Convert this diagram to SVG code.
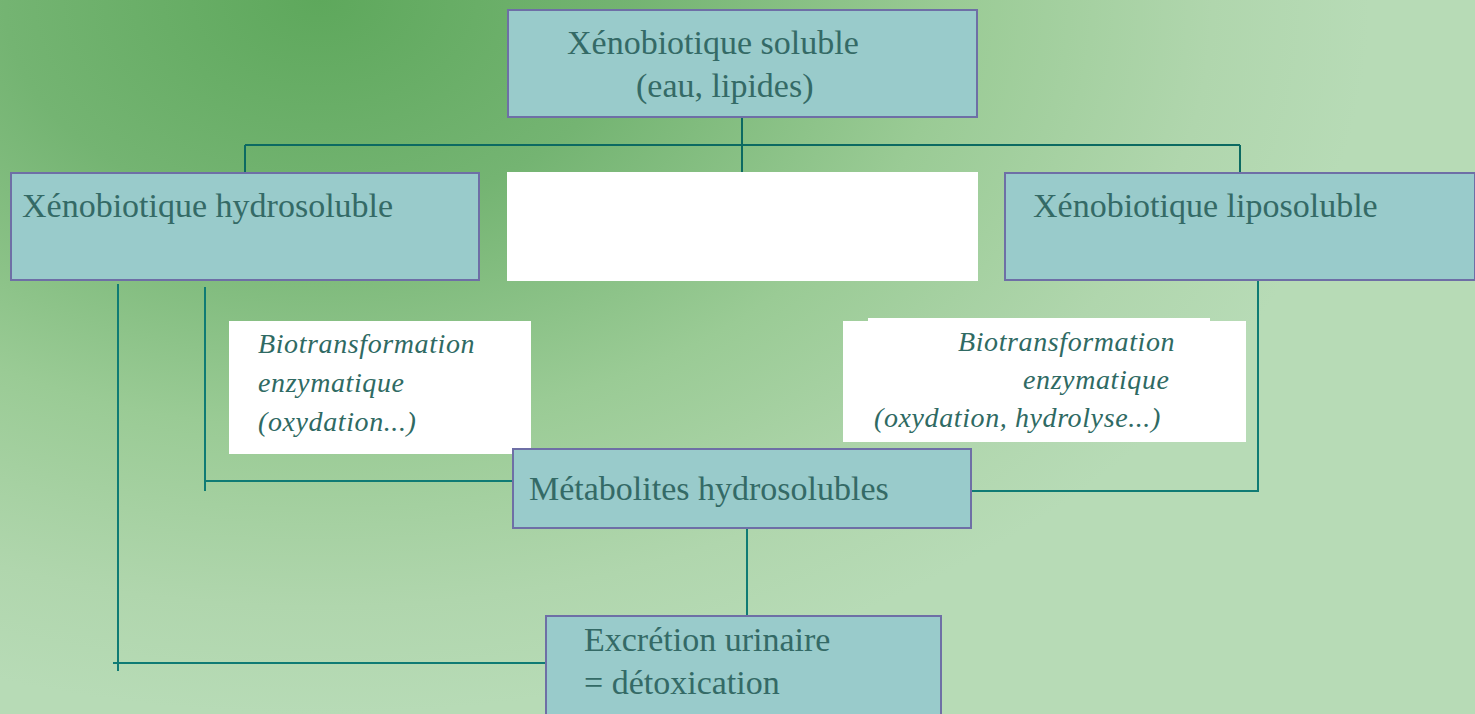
<svg xmlns="http://www.w3.org/2000/svg" width="1475" height="714" viewBox="0 0 1475 714">
  <defs>
    <radialGradient id="bg" gradientUnits="userSpaceOnUse" cx="320" cy="0" r="1050" gradientTransform="translate(320 0) scale(1 0.68) translate(-320 0)">
      <stop offset="0" stop-color="#5ea85c"/>
      <stop offset="0.3" stop-color="#74b472"/>
      <stop offset="0.6" stop-color="#9acb95"/>
      <stop offset="0.85" stop-color="#b0d6ad"/>
      <stop offset="1" stop-color="#b7dbb6"/>
    </radialGradient>
    <style>
      .box { fill: #99cbcb; stroke: #6e6fa6; stroke-width: 2; }
      .blank { fill: #ffffff; }
      .lbl { font-family: "Liberation Serif", "Times New Roman", serif; font-size: 34px; fill: #346a66; }
      .note { font-family: "Liberation Serif", "Times New Roman", serif; font-size: 28px; font-style: italic; letter-spacing: 0.6px; fill: #2f6a63; }
      .wire { fill: none; stroke: #0f7b74; stroke-width: 2; }
      .wire-top { fill: none; stroke: #0c6a62; stroke-width: 2; }
    </style>
  </defs>

  <!-- backdrop -->
  <rect x="0" y="0" width="1475" height="714" fill="url(#bg)"/>

  <!-- connectors -->
  <g id="connectors">
    <path class="wire-top" d="M742 117 V172 M245 145 H1240 M245 145 V173 M1240 145 V173"/>
    <path class="wire" d="M118 284 V671 M113 663 H546"/>
    <path class="wire" d="M205 287 V491 M205 481 H513"/>
    <path class="wire" d="M1258 280 V491 H971"/>
    <path class="wire" d="M747 528 V620"/>
  </g>

  <!-- root node -->
  <g id="node-soluble">
    <rect class="box" x="508" y="10" width="469" height="107"/>
    <text class="lbl" x="567" y="54">Xénobiotique soluble</text>
    <text class="lbl" x="636" y="97">(eau, lipides)</text>
  </g>

  <g id="node-hydrosoluble">
    <rect class="box" x="11" y="173" width="468" height="107"/>
    <text class="lbl" x="22" y="217">Xénobiotique hydrosoluble</text>
  </g>

  <g id="node-blank">
    <rect class="blank" x="507" y="172" width="471" height="109"/>
  </g>

  <g id="node-liposoluble">
    <rect class="box" x="1005" y="173" width="470" height="107"/>
    <text class="lbl" x="1033" y="217">Xénobiotique liposoluble</text>
  </g>

  <g id="note-left">
    <rect class="blank" x="229" y="321" width="302" height="133"/>
    <text class="note" x="258" y="353">Biotransformation</text>
    <text class="note" x="258" y="392">enzymatique</text>
    <text class="note" x="258" y="431">(oxydation...)</text>
  </g>

  <g id="note-right">
    <rect class="blank" x="868" y="318" width="342" height="10"/>
    <rect class="blank" x="843" y="321" width="403" height="121"/>
    <text class="note" x="958" y="351">Biotransformation</text>
    <text class="note" x="1023" y="389">enzymatique</text>
    <text class="note" x="874" y="427">(oxydation, hydrolyse...)</text>
  </g>

  <g id="node-metabolites">
    <rect class="box" x="513" y="449" width="458" height="79"/>
    <text class="lbl" x="529" y="500">Métabolites hydrosolubles</text>
  </g>

  <g id="node-excretion">
    <rect class="box" x="546" y="616" width="395" height="110"/>
    <text class="lbl" x="584" y="651">Excrétion urinaire</text>
    <text class="lbl" x="584" y="694">= détoxication</text>
  </g>
</svg>
